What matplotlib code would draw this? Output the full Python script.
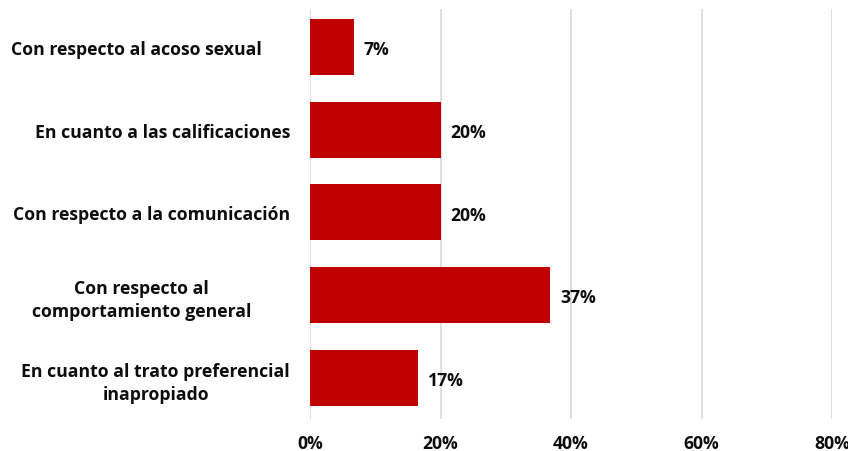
import matplotlib.pyplot as plt
from matplotlib.ticker import FuncFormatter
from matplotlib.transforms import ScaledTranslation

categorias = [
    "Con respecto al acoso sexual",
    "En cuanto a las calificaciones",
    "Con respecto a la comunicación",
    "Con respecto al\ncomportamiento general",
    "En cuanto al trato preferencial\ninapropiado",
]
valores = [6.7, 20, 20, 36.8, 16.6]
etiquetas = ["7%", "20%", "20%", "37%", "17%"]
ticks_x = [0, 20, 40, 60, 80]

# desplazamiento extra (px) de cada etiqueta de categoría hacia la izquierda
desplaz = [28, 0, 0, 39, 0]

plt.rcParams['font.family'] = ['Open Sans', 'DejaVu Sans']
plt.rcParams['font.weight'] = 'bold'

fig = plt.figure(figsize=(8.48, 4.52), dpi=100)
ax = fig.add_axes([0.3656, 0.0708, 0.6156, 0.9071])

y = list(range(len(categorias)))
ax.barh(y, valores, height=0.68, color="#C00000", zorder=3)

for yi, v, lab in zip(y, valores, etiquetas):
    ax.text(v + 1.5, yi + 0.03, lab, va="center", ha="left",
            fontsize=12.7, fontweight="bold", color="#0d0d0d")

ax.set_xlim(0, 80)
ax.set_ylim(4.5, -0.46)
ax.set_xticks(ticks_x)
ax.xaxis.set_major_formatter(FuncFormatter(lambda v, p: f"{v:.0f}%"))
ax.set_yticks(y)
ax.set_yticklabels(categorias, ha="right", multialignment="center", linespacing=1.35)
ax.tick_params(axis="both", length=0, labelsize=12.7, colors="#0d0d0d")
ax.tick_params(axis="x", pad=11)
ax.tick_params(axis="y", pad=14.4)
for t in ax.get_xticklabels():
    t.set_fontweight("bold")
for t, d in zip(ax.get_yticklabels(), desplaz):
    t.set_fontweight("bold")
    t.set_transform(t.get_transform() + ScaledTranslation(-d / 100, 0, fig.dpi_scale_trans))

ax.grid(axis="x", color="#d9d9d9", linewidth=1.2, zorder=0)
ax.grid(axis="y", visible=False)
for s in ax.spines.values():
    s.set_visible(False)

fig.savefig("out.png", dpi=100)
